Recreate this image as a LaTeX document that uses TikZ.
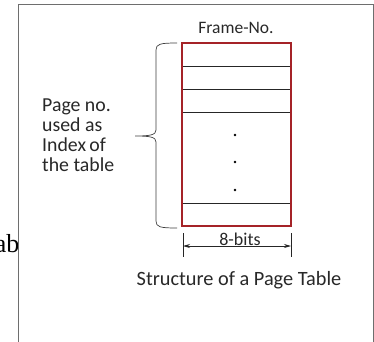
\documentclass[tikz,border=0pt]{standalone}
\usepackage{fontspec}
\setmainfont{Carlito}
\newfontfamily\serifab{Liberation Serif}
\usetikzlibrary{arrows.meta,decorations.pathreplacing}
\definecolor{tabred}{RGB}{165,35,40}
\definecolor{txtgray}{RGB}{40,40,40}
\definecolor{framegray}{RGB}{110,110,110}
\tikzset{
  lbl/.style={inner sep=0pt, text=txtgray, font=\fontsize{16}{20}\selectfont},
  rowline/.style={draw=black!85, line width=0.7pt},
  dimline/.style={draw=black!85, line width=0.7pt},
}
\begin{document}
\begin{tikzpicture}[x=1pt,y=-1pt]
\useasboundingbox (0,0) rectangle (374,341);
\fill[white] (0,0) rectangle (374,341);
% outer frame
\draw[framegray, line width=1pt] (18,345) -- (18,4) -- (373,4) -- (373,345);
% clipped text
\begin{scope}
\clip (0,0) rectangle (17.5,341);
\node[anchor=base east, inner sep=0pt, font=\serifab\fontsize{26}{30}\selectfont] (ab) at (19.5,252) {ab};
\end{scope}
% table rows
\coordinate (tl) at (182,43);
\coordinate (br) at (291,226);
\foreach \yy [count=\i] in {66,89,112,203} {
  \draw[rowline] (182,\yy) -- (291,\yy);
}
\draw[tabred, line width=1.2pt] (tl) rectangle (br);
\node[circle, fill=black, inner sep=0pt, minimum size=2.6pt] (d1) at (235,135) {};
\node[circle, fill=black, inner sep=0pt, minimum size=2.6pt] (d2) at (235,162) {};
\node[circle, fill=black, inner sep=0pt, minimum size=2.6pt] (d3) at (235,190) {};
% labels
\node[lbl, font=\fontsize{17.5}{20}\selectfont] (fn) at (236,28) {Frame-No.};
\node[lbl, align=left, anchor=north west, font=\fontsize{19.8}{20}\selectfont] (pn) at (42,99) {Page no.\\used as\\Index\,of\\the table};
% brace
\draw[black!75, line width=0.7pt] (177,43) .. controls (160,43) and (156,44) .. (156,50)
  -- (156,130) .. controls (156,135) and (150,136) .. (135,136)
  .. controls (150,136) and (156,137) .. (156,142)
  -- (156,221) .. controls (156,227) and (160,228) .. (177,228);
% dimension
\coordinate (t1a) at (183,233);
\coordinate (t1b) at (183,257);
\coordinate (t2a) at (291,233);
\coordinate (t2b) at (291,257);
\draw[dimline] (t1a) -- (t1b);
\draw[dimline] (t2a) -- (t2b);
\draw[dimline, {Stealth[length=7pt,width=4pt]}-{Stealth[length=7pt,width=4pt]}] (183,246) -- (291,246);
\node[lbl, font=\fontsize{18}{20}\selectfont] (bits) at (240,239) {8-bits};
\node[lbl, font=\fontsize{20.3}{24}\selectfont] (cap) at (239,280) {Structure of a Page Table};
\end{tikzpicture}
\end{document}
